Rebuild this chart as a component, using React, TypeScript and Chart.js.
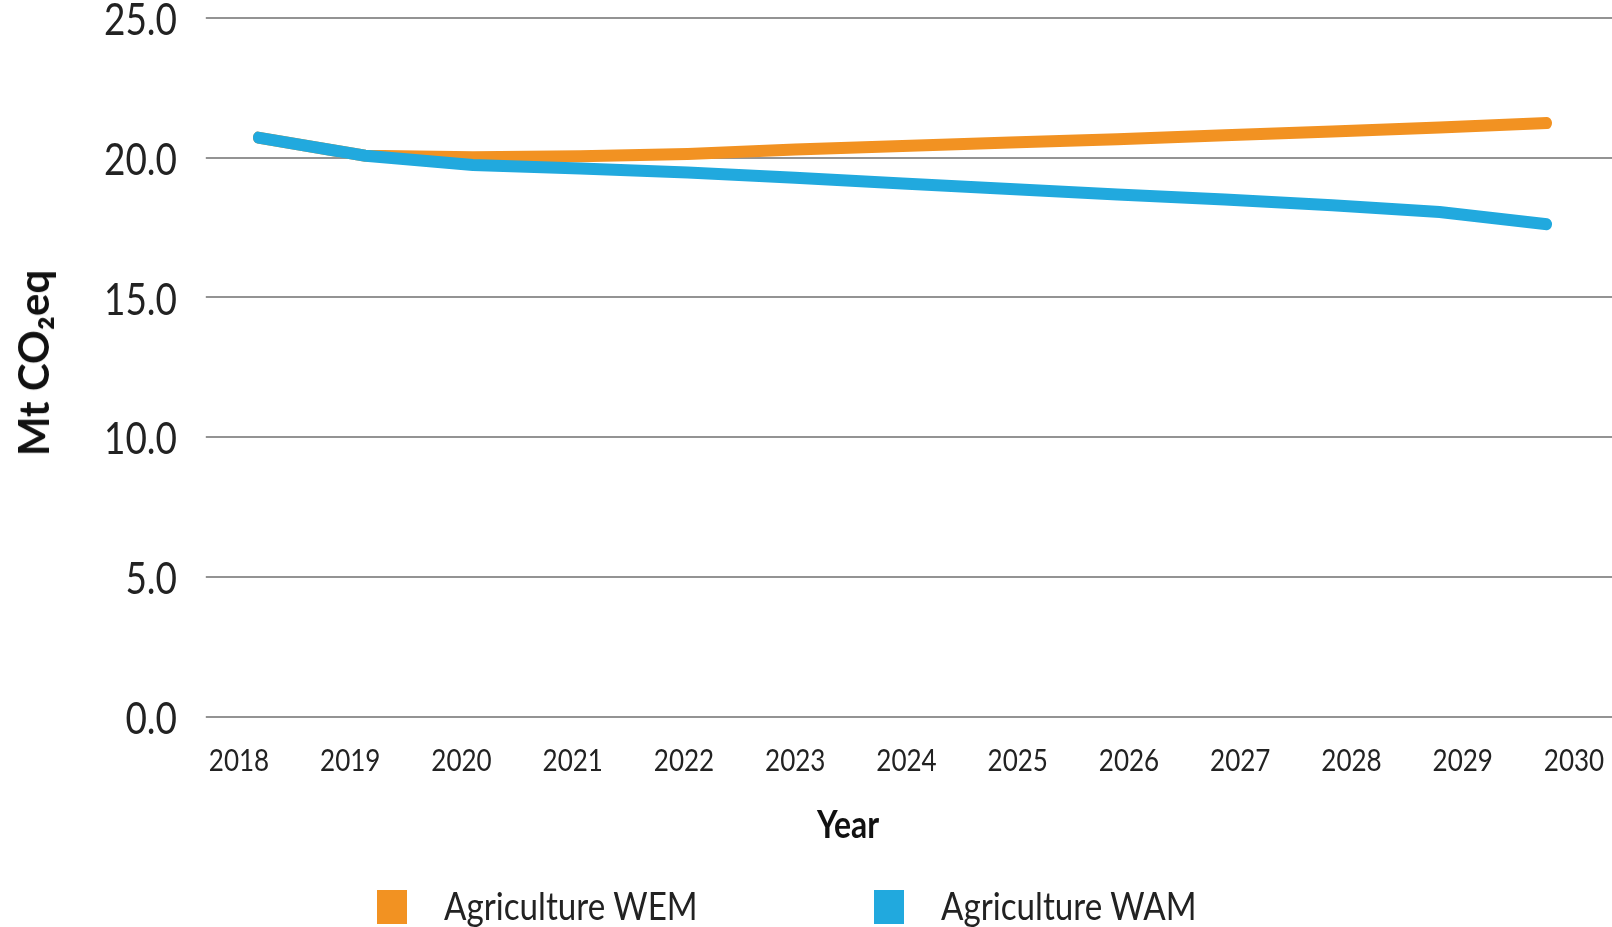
import React, { useEffect, useRef } from "react";
import { Chart, registerables } from "chart.js";

Chart.register(...registerables);

const years = [2018, 2019, 2020, 2021, 2022, 2023, 2024, 2025, 2026, 2027, 2028, 2029, 2030];
const wem = [20.72, 20.07, 20.02, 20.05, 20.13, 20.29, 20.42, 20.54, 20.66, 20.8, 20.94, 21.08, 21.24];
const wam = [20.72, 20.07, 19.74, 19.61, 19.47, 19.28, 19.08, 18.88, 18.68, 18.5, 18.3, 18.06, 17.62];
const yTicks = [0, 5, 10, 15, 20, 25];
const seriesNames = ["Agriculture WEM", "Agriculture WAM"];
const seriesColors = ["#F29222", "#21A9DE"];
const yTitle = "Mt CO\u2082eq";
const xTitle = "Year";

const FONT = "Lato, 'Liberation Sans', sans-serif";
const TEXT = "#222222";

// horizontal condensing of the drawing (reference text is narrow)
const W = 1612;
const H = 927;
const CW = 1919;
const K = W / CW;

const squeeze = {
  id: "squeeze",
  beforeDraw(chart: any) {
    chart.ctx.save();
    chart.ctx.scale(K, 1);
  },
  afterDraw(chart: any) {
    chart.ctx.restore();
  },
};

export default function App() {
  const ref = useRef<HTMLCanvasElement | null>(null);

  useEffect(() => {
    if (!ref.current) return;
    const mk = (i: number, vals: number[], order: number) => ({
      label: seriesNames[i],
      data: years.map((x, j) => ({ x, y: vals[j] })),
      borderColor: seriesColors[i],
      backgroundColor: seriesColors[i],
      borderWidth: 12,
      borderCapStyle: "round" as const,
      borderJoinStyle: "round" as const,
      pointRadius: 0,
      tension: 0,
      xAxisID: "x2",
      order,
    });
    const chart = new Chart(ref.current, {
      type: "line",
      data: { datasets: [mk(1, wam, 0), mk(0, wem, 1)] },
      plugins: [squeeze],
      options: {
        animation: false,
        responsive: true,
        maintainAspectRatio: false,
        layout: { padding: { top: 18, left: 0, right: 0, bottom: 0 } },
        plugins: { legend: { display: false }, tooltip: { enabled: false } },
        scales: {
          x: {
            type: "linear",
            position: "bottom",
            min: 2017.7034,
            max: 2030.3416,
            grid: { display: false, drawTicks: false },
            border: { display: false },
            afterBuildTicks: (s: any) => {
              s.ticks = years.map((v) => ({ value: v }));
            },
            afterFit: (s: any) => {
              s.height = 210.5;
              s.paddingLeft = 0;
              s.paddingRight = 0;
            },
            ticks: {
              autoSkip: false,
              maxRotation: 0,
              padding: 26,
              color: TEXT,
              font: { family: FONT, size: 31 },
              callback: (v: any) => String(v),
            },
          },
          x2: {
            type: "linear",
            display: false,
            min: 2017.5159,
            max: 2030.6051,
          },
          y: {
            type: "linear",
            min: 0,
            max: 25,
            afterBuildTicks: (s: any) => {
              s.ticks = yTicks.map((v) => ({ value: v }));
            },
            afterFit: (s: any) => {
              s.width = 206 / K;
              s.paddingTop = 0;
              s.paddingBottom = 0;
            },
            grid: { color: "#939393", lineWidth: 2, drawTicks: false },
            border: { display: false },
            ticks: {
              padding: 29 / K,
              labelOffset: 3,
              color: TEXT,
              font: { family: FONT, size: 44 },
              callback: (v: any) => Number(v).toFixed(1),
            },
          },
        },
      },
    });
    return () => chart.destroy();
  }, []);

  const legendText: React.CSSProperties = {
    position: "absolute",
    top: 885,
    fontFamily: FONT,
    fontSize: 39.5,
    lineHeight: "40px",
    color: TEXT,
    whiteSpace: "nowrap",
    transformOrigin: "left center",
    transform: `scaleX(${K})`,
  };
  const box = (left: number, color: string): React.CSSProperties => ({
    position: "absolute",
    left,
    top: 890,
    width: 30,
    height: 34,
    background: color,
  });

  return (
    <div style={{ position: "absolute", left: 0, top: 0, width: W, height: H, background: "#fff", overflow: "hidden" }}>
      <div style={{ position: "absolute", left: 0, top: 0, width: CW, height: H }}>
        <canvas ref={ref} />
      </div>
      <div
        style={{
          position: "absolute",
          left: 33,
          top: 363,
          transform: "translate(-50%, -50%) rotate(-90deg)",
          fontFamily: FONT,
          fontWeight: "bold",
          fontSize: 42,
          lineHeight: "42px",
          color: "#111111",
          whiteSpace: "nowrap",
        }}
      >
        {yTitle}
      </div>
      <div
        style={{
          position: "absolute",
          left: 848,
          top: 804,
          transform: `translateX(-50%) scaleX(${K})`,
          fontFamily: FONT,
          fontWeight: "bold",
          fontSize: 38,
          lineHeight: "38px",
          color: "#111111",
          whiteSpace: "nowrap",
        }}
      >
        {xTitle}
      </div>
      <div style={box(377, seriesColors[0])} />
      <div style={{ ...legendText, left: 444 }}>{seriesNames[0]}</div>
      <div style={box(874, seriesColors[1])} />
      <div style={{ ...legendText, left: 941 }}>{seriesNames[1]}</div>
    </div>
  );
}
